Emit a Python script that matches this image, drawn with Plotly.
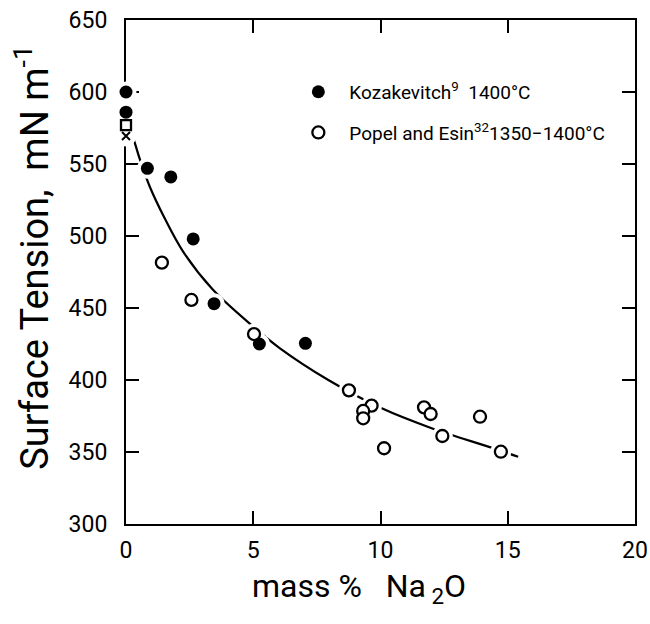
import plotly.graph_objects as go

# Kozakevitch (filled circles)
koz_x = [0.0, 0.0, 0.84, 1.76, 2.64, 3.46, 5.24, 7.05]
koz_y = [600, 586, 547, 541, 498, 453, 425, 425.5]

# Popel and Esin (open circles)
pop_x = [1.41, 2.57, 5.03, 8.76, 9.65, 9.32, 9.32, 11.71, 11.97, 13.91, 10.14, 12.43, 14.73]
pop_y = [481.5, 455.6, 431.9, 392.8, 382.2, 378.5, 373.4, 381, 376.4, 374.5, 352.6, 361.1, 350.2]

# other pure-silica points at 0 %
sq_x, sq_y = [0.0], [577]
cr_x, cr_y = [0.0], [569.5]

# fitted curve
fit_x = [0.0, 0.22, 0.55, 0.94, 1.5, 2.25, 3.4, 4.94, 6.05, 7.95, 10.05, 12.01, 14.43, 15.41]
fit_y = [578, 571, 553, 534, 513, 489, 463, 438, 422, 400, 380.3, 366.5, 352.6, 346.7]

x_ticks = [0, 5, 10, 15, 20]
y_ticks = [300, 350, 400, 450, 500, 550, 600, 650]

FONT = "Roboto"

fig = go.Figure()
fig.add_trace(go.Scatter(x=fit_x, y=fit_y, mode="lines", line=dict(color="black", width=2.2, shape="spline"),
                         showlegend=False, hoverinfo="skip", cliponaxis=False))
# white halos that break the line around markers
fig.add_trace(go.Scatter(x=koz_x + pop_x + sq_x + cr_x, y=koz_y + pop_y + sq_y + cr_y, mode="markers",
                         marker=dict(color="white", size=21, line=dict(width=0)),
                         showlegend=False, hoverinfo="skip", cliponaxis=False))
fig.add_trace(go.Scatter(x=koz_x, y=koz_y, mode="markers", name="Kozakevitch<sup>9</sup>  1400°C",
                         marker=dict(color="black", size=13, symbol="circle", line=dict(width=0)),
                         legendgroup="a", cliponaxis=False))
fig.add_trace(go.Scatter(x=pop_x, y=pop_y, mode="markers", name="Popel and Esin<sup>32</sup>1350−1400°C",
                         marker=dict(color="white", size=12, symbol="circle", line=dict(color="black", width=2.3)),
                         legendgroup="b", cliponaxis=False))
fig.add_trace(go.Scatter(x=sq_x, y=sq_y, mode="markers",
                         marker=dict(color="white", size=10, symbol="square", line=dict(color="black", width=2.3)),
                         showlegend=False, cliponaxis=False))
fig.add_trace(go.Scatter(x=cr_x, y=cr_y, mode="markers",
                         marker=dict(color="black", size=8, symbol="x-thin", line=dict(color="black", width=2)),
                         showlegend=False, cliponaxis=False))

axis_common = dict(showline=True, linecolor="black", linewidth=2, mirror="ticks", ticks="inside",
                   ticklen=13, tickwidth=2, tickcolor="black", showgrid=False, zeroline=False,
                   automargin=False, layer="below traces",
                   tickfont=dict(family=FONT, size=23, color="black"))

fig.update_xaxes(range=[0, 20], tickvals=x_ticks, ticklabelstandoff=4, **axis_common)
fig.update_yaxes(range=[300, 650], tickvals=y_ticks, ticklabelstandoff=12, **axis_common)

fig.add_annotation(text="Surface Tension,  mN m<sup>-1</sup>", xref="paper", yref="paper",
                   x=-0.185, y=0.530, xanchor="center", yanchor="middle", textangle=-90, showarrow=False,
                   font=dict(family=FONT, size=38, color="black"))
fig.add_annotation(text="mass %   Na<sub> 2</sub>O", xref="paper", yref="paper",
                   x=0.458, y=-0.127, xanchor="center", yanchor="middle", showarrow=False,
                   font=dict(family=FONT, size=32, color="black"))

fig.update_layout(
    width=650, height=624,
    margin=dict(l=126, r=15, t=20, b=100),
    plot_bgcolor="white", paper_bgcolor="white",
    font=dict(family=FONT, color="black"),
    legend=dict(x=0.317, y=0.895, xanchor="left", yanchor="top", bgcolor="rgba(0,0,0,0)",
                font=dict(family=FONT, size=19, color="black"), tracegroupgap=13, itemwidth=52),
)

fig.write_html("out.html")
